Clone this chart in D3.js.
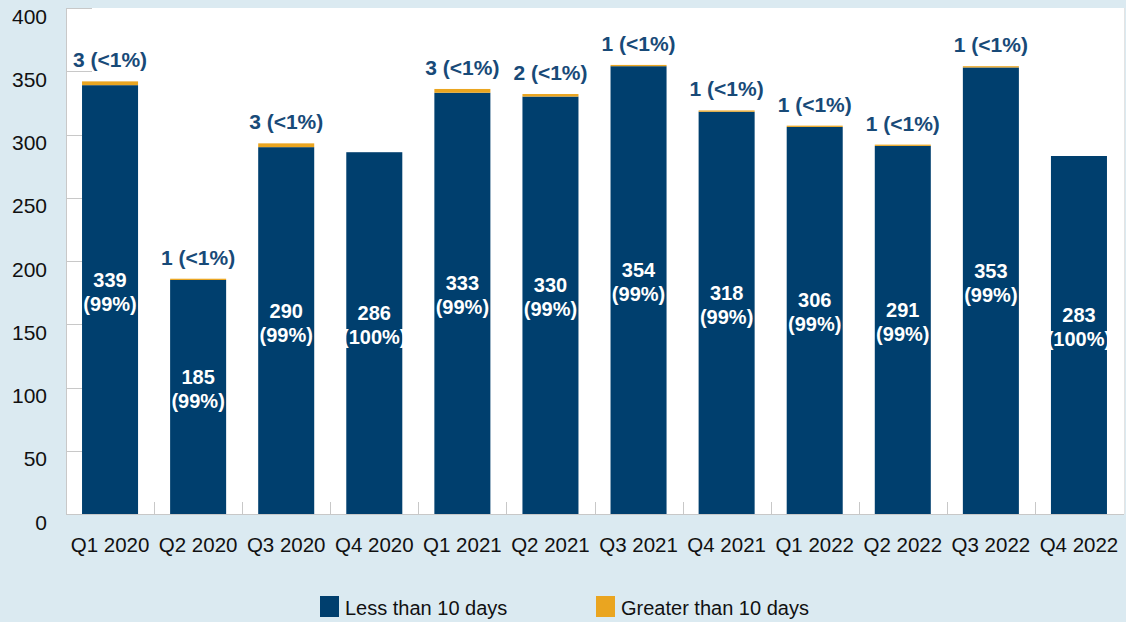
<!DOCTYPE html>
<html>
<head>
<meta charset="utf-8">
<script src="https://cdn.jsdelivr.net/npm/d3@7"></script>
<style>
  html, body { margin: 0; padding: 0; background: #dbeaf1; }
  svg { display: block; font-family: "Liberation Sans", Arial, Helvetica, sans-serif; }
</style>
</head>
<body>
<svg id="chart" width="1126" height="622"></svg>
<script>
const categories = ["Q1 2020","Q2 2020","Q3 2020","Q4 2020","Q1 2021","Q2 2021","Q3 2021","Q4 2021","Q1 2022","Q2 2022","Q3 2022","Q4 2022"];
const lessThan10 = [339,185,290,286,333,330,354,318,306,291,353,283];
const lessPct = ["99%","99%","99%","100%","99%","99%","99%","99%","99%","99%","99%","100%"];
const greaterThan10 = [3,1,3,0,3,2,1,1,1,1,1,0];
const greaterPct = ["<1%","<1%","<1%","","<1%","<1%","<1%","<1%","<1%","<1%","<1%",""];
const yTicks = [0,50,100,150,200,250,300,350,400];
const seriesNames = ["Less than 10 days","Greater than 10 days"];

const colors = { less: "#003f6e", greater: "#eaa520", top: "#184a78", bg: "#dbeaf1", axis: "#c8c8c8" };

const svg = d3.select("#chart");
const W = 1126, H = 622;
const m = { left: 66, right: 1123, top: 8, bottom: 514 };

svg.append("rect").attr("width", W).attr("height", H).attr("fill", colors.bg);
svg.append("rect").attr("x", m.left).attr("y", m.top)
  .attr("width", 1124 - m.left).attr("height", m.bottom - m.top).attr("fill", "#fff");

const x = d3.scaleBand().domain(categories).range([m.left, m.right]).paddingInner(0.364).paddingOuter(0.182);
const y = d3.scaleLinear().domain([0, 400]).range([m.bottom, m.top]);

// inward y tick marks
svg.append("g").selectAll("line").data(yTicks).join("line")
  .attr("x1", m.left).attr("x2", m.left + 26)
  .attr("y1", d => Math.round(y(d)) + 0.5).attr("y2", d => Math.round(y(d)) + 0.5)
  .attr("stroke", colors.axis).attr("stroke-width", 1);

// y tick labels
svg.append("g").selectAll("text").data(yTicks).join("text")
  .attr("x", 47).attr("y", d => y(d) + 10)
  .attr("text-anchor", "end").attr("dominant-baseline", "middle")
  .attr("font-size", 21).attr("fill", "#111").text(d => d);

// x category separator ticks
const seps = categories.slice(1).map(c => x(c) - x.step() * x.paddingInner() / 2);
svg.append("g").selectAll("line").data(seps).join("line")
  .attr("x1", d => Math.round(d) + 0.5).attr("x2", d => Math.round(d) + 0.5)
  .attr("y1", m.bottom - 12).attr("y2", m.bottom)
  .attr("stroke", colors.axis);

// axes lines
svg.append("line").attr("x1", m.left + 0.5).attr("x2", m.left + 0.5).attr("y1", m.top).attr("y2", m.bottom)
  .attr("stroke", colors.axis);
svg.append("line").attr("x1", m.left).attr("x2", 1124).attr("y1", m.bottom + 0.5).attr("y2", m.bottom + 0.5)
  .attr("stroke", colors.axis);
svg.append("line").attr("x1", 1124.5).attr("x2", 1124.5).attr("y1", m.top).attr("y2", m.bottom)
  .attr("stroke", "#e4e4e4");

const data = categories.map((c, i) => ({ c, less: lessThan10[i], greater: greaterThan10[i], lp: lessPct[i], gp: greaterPct[i] }));

// bars
svg.append("g").selectAll("rect").data(data).join("rect")
  .attr("x", d => x(d.c)).attr("width", x.bandwidth())
  .attr("y", d => y(d.less)).attr("height", d => y(0) - y(d.less))
  .attr("fill", colors.less);
svg.append("g").selectAll("rect").data(data.filter(d => d.greater > 0)).join("rect")
  .attr("x", d => x(d.c)).attr("width", x.bandwidth())
  .attr("y", d => y(d.less + d.greater)).attr("height", d => y(d.less) - y(d.less + d.greater))
  .attr("fill", colors.greater);

// inside labels
const inner = svg.append("g").selectAll("text").data(data).join("text")
  .attr("text-anchor", "middle").attr("font-size", 20).attr("font-weight", "bold").attr("fill", "#fff");
inner.append("tspan").attr("x", d => x(d.c) + x.bandwidth() / 2)
  .attr("y", d => (y(d.less) + y(0)) / 2 - 13).text(d => d.less);
inner.append("tspan").attr("x", d => x(d.c) + x.bandwidth() / 2)
  .attr("dy", 24).text(d => "(" + d.lp + ")");

// top labels
svg.append("g").selectAll("text").data(data.filter(d => d.greater > 0)).join("text")
  .attr("x", d => x(d.c) + x.bandwidth() / 2)
  .attr("y", d => y(d.less + d.greater) - 14)
  .attr("text-anchor", "middle").attr("font-size", 21).attr("font-weight", "bold").attr("fill", colors.top)
  .text(d => d.greater + " (" + d.gp + ")");

// x labels
svg.append("g").selectAll("text").data(categories).join("text")
  .attr("x", d => x(d) + x.bandwidth() / 2).attr("y", 552)
  .attr("text-anchor", "middle").attr("font-size", 20.5).attr("fill", "#111").text(d => d);

// legend
const legendX = [320, 596];
const leg = svg.append("g").selectAll("g").data(seriesNames).join("g")
  .attr("transform", (d, i) => `translate(${legendX[i]},596)`);
leg.append("rect").attr("width", 19).attr("height", 21).attr("fill", (d, i) => i === 0 ? colors.less : colors.greater);
leg.append("text").attr("x", 25).attr("y", 19).attr("font-size", 20).attr("fill", "#111").text(d => d);
</script>
</body>
</html>
